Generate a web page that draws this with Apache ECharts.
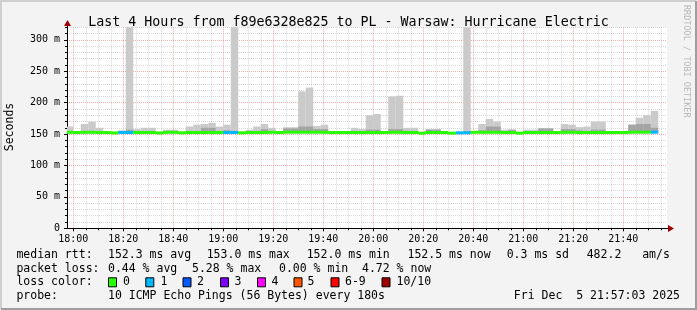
<!DOCTYPE html>
<html><head><meta charset="utf-8">
<script src="https://cdn.jsdelivr.net/npm/echarts@6/dist/echarts.min.js"></script>
<style>html,body{margin:0;padding:0;background:#f3f3f3}#c{width:697px;height:310px}</style>
</head><body><div id="c"></div>
<script>
// ---------- DATA ----------
const titleText = 'Last 4 Hours from f89e6328e825 to PL - Warsaw: Hurricane Electric';
const stepMinutes = 3;
const firstStepEnd = '18:00';           // end time of the first 3-minute step
const axisStart = '17:57:30';
const axisEnd = '21:57:30';
// per-step smoke: min ping, 2nd-layer top, max ping (ms)
const minPing = [152,152,152,152,152,152,151.5,152,152,152,152,152,151.5,152,152,151.5,152,152,152,152,
                 152,152,152,151.5,152,152,152,152,152,152,152,152,152,152,152,152,152,152,152,152,
                 152,152,152,152,152,152,152,151,152,152,152,151,152,152,152,152,152,152,152,152,
                 151,152,152,152,152,152,152,152,152,152,152,152,152,152,152,152,152,152,152];
const innerPing = [153,153,154,155,153,153,152,154,157,155,154,154,152,155,155,152,154,155,160,160,
                   155,156,155,152,154,155,158,155,153,159,159,162,162,158,158,153,153,153,155,155,
                   157,157,153,158,158,155,155,152,157,157,153,152,152,155,154,156,162,162,155,157,
                   152,155,155,159,159,152,158,158,156,155,157,157,153,153,153,165,166,166,160];
const maxPing = [162,154,166,170,160,155,153,156,330,158,160,160,153,157,157,153,162,165,166,168,
                 162,165,330,153,157,162,166,160,154,161,161,218,224,163,165,154,154,154,160,158,
                 180,182,154,210,211,160,160,153,158,158,154,153,153,330,155,166,174,170,157,157,
                 153,157,157,159,159,153,166,165,161,162,170,170,154,154,154,165,176,180,187];
const medianRtt = [152.8,152.5,152.8,152.8,152.5,152.5,151.8,152.5,152.5,152.5,152.5,152.5,151.8,152.8,152.8,152,152.5,152.5,152.5,152.5,
                   152.5,152.5,152.5,152,152.5,152.5,152.5,152.8,152.5,153,153,153,153,153,152.8,152.5,152.5,152.5,152.5,152.5,
                   152.5,152.5,152.5,152.8,152.8,152.5,152.5,151.5,152.5,152.5,152.5,151.5,152,152,152.8,152.8,152.8,152.8,152.5,152.5,
                   151.5,152.5,152.5,152.5,152.5,152.5,152.8,152.8,152.5,152.5,152.5,152.5,152.5,152.5,152.5,153,153,153,153];
const lossCount = [0,0,0,0,0,0,0,1,1,0,0,0,0,0,0,0,0,0,0,0,
                   0,1,1,0,0,0,0,0,0,0,0,0,0,0,0,0,0,0,0,0,
                   0,0,0,0,0,0,0,0,0,0,0,0,1,1,0,0,0,0,0,0,
                   0,0,0,0,0,0,0,0,0,0,0,0,0,0,0,0,0,0,1];
const lossColors = ['#26ff00','#00b8ff','#0059ff','#7e00ff','#ff00ff','#ff5500','#ff0000','#a10000'];
const lossLabels = ['0','1','2','3','4','5','6-9','10/10'];
const yMajorTicks = [0,50,100,150,200,250,300];
const yMinorTicks = [10,20,30,40,60,70,80,90,110,120,130,140,160,170,180,190,210,220,230,240,260,270,280,290,310,320];
const yMax = 320;
const xTickLabels = ['18:00','18:20','18:40','19:00','19:20','19:40','20:00','20:20','20:40','21:00','21:20','21:40'];
const xMinorTickLabels = ['17:58:00','18:05','18:10','18:15','18:25','18:30','18:35','18:45','18:50','18:55','19:05','19:10','19:15',
  '19:25','19:30','19:35','19:45','19:50','19:55','20:05','20:10','20:15','20:25','20:30','20:35','20:45','20:50','20:55',
  '21:05','21:10','21:15','21:25','21:30','21:35','21:45','21:50','21:55'];
const statsRows = [
  ['median rtt:', ['152.3 ms avg','153.0 ms max','152.0 ms min','152.5 ms now','0.3 ms sd','482.2','am/s']],
  ['packet loss:', ['0.44 % avg','5.28 % max','0.00 % min','4.72 % now']],
  ['loss color:', []],
  ['probe:', ['10 ICMP Echo Pings (56 Bytes) every 180s']]
];
const dateText = 'Fri Dec  5 21:57:03 2025';

// ---------- helpers ----------
function toMin(s){const p=s.split(':').map(Number);return p[0]*60+p[1]+(p[2]||0)/60;}
function fmt(m){const h=Math.floor(m/60),mm=Math.round(m-h*60);return String(h).padStart(2,'0')+':'+String(mm).padStart(2,'0');}
const xMin = toMin(axisStart), xMax = toMin(axisEnd);
const t0 = toMin(firstStepEnd);
const xMajorVals = xTickLabels.map(toMin);
const xMinorVals = xMinorTickLabels.slice(1).map(toMin);

const smokeOuter = maxPing.map((v,i)=>[t0+i*stepMinutes, minPing[i], v]);
const smokeInner = innerPing.map((v,i)=>[t0+i*stepMinutes, minPing[i], v]);
const medianData = medianRtt.map((v,i)=>[t0+i*stepMinutes, v, lossCount[i]]);

function rectItem(params, api){
  const t = api.value(0), lo = api.value(1), hi = Math.min(api.value(2), yMax);
  if (hi <= lo) return null;
  const a = api.coord([Math.max(t-stepMinutes, xMin), hi]);
  const b = api.coord([t, lo]);
  return {type:'rect', shape:{x:a[0], y:a[1], width:b[0]-a[0], height:b[1]-a[1]}, style:{fill: api.visual('color')}};
}
function medianItem(params, api){
  const t = api.value(0), m = api.value(1), loss = api.value(2);
  const a = api.coord([Math.max(t-stepMinutes, xMin), m]);
  const b = api.coord([t, m]);
  return {type:'rect', shape:{x:a[0], y:a[1]-1.5, width:b[0]-a[0], height:3}, style:{fill: lossColors[loss]}};
}

const FONT = '"DejaVu Sans Mono", monospace';
const minorGrid = {show:true, lineStyle:{color:'rgba(143,143,143,0.35)', width:1, type:[1,1]}};
const majorGrid = {show:true, lineStyle:{color:'rgba(222,80,80,0.45)', width:1, type:[1,1]}};

const graphics = [];
// frame shading
graphics.push({type:'rect', shape:{x:0,y:0,width:697,height:310}, style:{fill:'#f3f3f3'}, z:-10, silent:true});
graphics.push({type:'polyline', shape:{points:[[1,309],[1,1],[696,1]]}, style:{stroke:'#cfcfcf', lineWidth:2, fill:null}, silent:true});
graphics.push({type:'polyline', shape:{points:[[1,309],[696,309],[696,1]]}, style:{stroke:'#9e9e9e', lineWidth:2, fill:null}, silent:true});
// axis extensions and arrows
graphics.push({type:'line', shape:{x1:667,y1:228.5,x2:671,y2:228.5}, style:{stroke:'#000', lineWidth:1}});
graphics.push({type:'polygon', shape:{points:[[668,225],[674,228.5],[668,232]]}, style:{fill:'#a00000'}});
graphics.push({type:'line', shape:{x1:67.5,y1:27,x2:67.5,y2:23}, style:{stroke:'#000', lineWidth:1}});
graphics.push({type:'polygon', shape:{points:[[64,26],[67.5,20],[71,26]]}, style:{fill:'#a00000'}});
// y axis name
graphics.push({type:'text', x:10, y:127, rotation:Math.PI/2, style:{text:'Seconds', font:'11.5px '+FONT, fill:'#000', align:'center', verticalAlign:'middle'}});
// watermark
graphics.push({type:'text', x:686, y:5, rotation:-Math.PI/2, style:{text:'RRDTOOL / TOBI OETIKER', font:'8.5px '+FONT, fill:'#b8b8b8', align:'left', verticalAlign:'middle'}});
// stats rows
const rowY = [255, 268.7, 282.3, 296];
const colX = [[108,206.7,306.7,407.5,506.7,586.7,642.2],[108,192,279,362],[],[108]];
statsRows.forEach((r,ri)=>{
  graphics.push({type:'text', x:16.4, y:rowY[ri], style:{text:r[0], font:'11.5px '+FONT, fill:'#000', verticalAlign:'middle'}});
  r[1].forEach((s,ci)=>graphics.push({type:'text', x:colX[ri][ci], y:rowY[ri], style:{text:s, font:'11.5px '+FONT, fill:'#000', verticalAlign:'middle'}}));
});
graphics.push({type:'text', x:680, y:rowY[3], style:{text:dateText, font:'11.5px '+FONT, fill:'#000', align:'right', verticalAlign:'middle'}});
const boxX = [108,145.3,182.5,220,257,293.5,330.5,381.5];
const labX = [123,160.4,197,234.5,271.5,307.6,345,396.5];
lossLabels.forEach((l,i)=>{
  graphics.push({type:'rect', shape:{x:boxX[i]+0.5,y:rowY[2]-4.5,width:8,height:9}, style:{fill:lossColors[i], stroke:'#000', lineWidth:1}});
  graphics.push({type:'text', x:labX[i], y:rowY[2], style:{text:l, font:'11.5px '+FONT, fill:'#000', verticalAlign:'middle'}});
});

const chart = echarts.init(document.getElementById('c'), null, {renderer:'canvas'});
chart.setOption({
  backgroundColor:'#f3f3f3',
  animation:false,
  title:{text:titleText, left:'center', top:11, textStyle:{fontFamily:FONT, fontSize:13.3, fontWeight:'normal', color:'#000'}},
  grid:{left:67, right:30, top:27.3, bottom:81.7, show:true, backgroundColor:'#fff', borderWidth:0},
  xAxis:[
    {type:'value', min:xMin, max:xMax, position:'bottom', axisLine:{show:false},
     axisTick:{show:true, customValues:xMinorVals, length:2, lineStyle:{color:'#000'}},
     axisLabel:{show:false}, splitLine:minorGrid},
    {type:'value', min:xMin, max:xMax, position:'bottom',
     axisLine:{show:true, onZero:false, lineStyle:{color:'#000', width:1}},
     axisTick:{show:true, customValues:xMajorVals, length:3, lineStyle:{color:'#000'}},
     axisLabel:{show:true, customValues:xMajorVals, formatter:v=>xTickLabels[xMajorVals.indexOf(v)] || fmt(v), margin:6,
                fontFamily:FONT, fontSize:10, color:'#000'},
     splitLine:majorGrid}
  ],
  yAxis:[
    {type:'value', min:0, max:yMax, position:'left', axisLine:{show:false},
     axisTick:{show:true, customValues:yMinorTicks, length:2, lineStyle:{color:'#000'}},
     axisLabel:{show:false}, splitLine:minorGrid},
    {type:'value', min:0, max:yMax, position:'left',
     axisLine:{show:true, onZero:false, lineStyle:{color:'#000', width:1}},
     axisTick:{show:true, customValues:yMajorTicks, length:3, lineStyle:{color:'#000'}},
     axisLabel:{show:true, customValues:yMajorTicks, formatter:v=>v===0?'0':v+' m', margin:7,
                fontFamily:FONT, fontSize:10, color:'#000'},
     splitLine:majorGrid}
  ],
  series:[
    {type:'custom', name:'smoke', xAxisIndex:1, yAxisIndex:1, renderItem:rectItem, data:smokeOuter, itemStyle:{color:'#cacaca'}, z:2, silent:true},
    {type:'custom', name:'smoke2', xAxisIndex:1, yAxisIndex:1, renderItem:rectItem, data:smokeInner, itemStyle:{color:'#a4a4a4'}, z:3, silent:true},
    {type:'custom', name:'median', xAxisIndex:1, yAxisIndex:1, renderItem:medianItem, data:medianData, z:4, silent:true}
  ],
  graphic:graphics
});
</script></body></html>
